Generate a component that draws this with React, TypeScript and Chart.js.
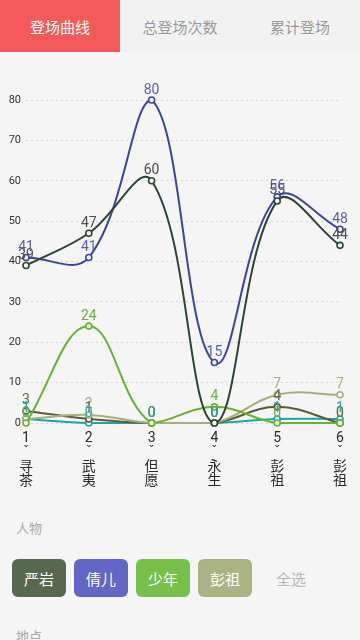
import React, { useEffect, useRef } from "react";
import { Chart, registerables } from "chart.js";

Chart.register(...registerables);

const categories = ["1", "2", "3", "4", "5", "6"];
const categoryNames = ["寻茶", "武夷", "但愿", "永生", "彭祖", "彭祖"];
const yTickValues = [0, 10, 20, 30, 40, 50, 60, 70, 80];
const tabs = ["登场曲线", "总登场次数", "累计登场"];
const personButtons = ["严岩", "倩儿", "少年", "彭祖"];

const seriesNames = ["严岩", "倩儿", "少年", "彭祖", "路人", "其他"];
const yanYan = [39, 47, 60, 0, 55, 44];
const qianEr = [41, 41, 80, 15, 56, 48];
const shaoNian = [0, 24, 0, 4, 0, 0];
const pengZu = [1, 2, 0, 0, 7, 7];
const luRen = [3, 1, 0, 0, 4, 0];
const qiTa = [1, 0, 0, 0, 1, 1];

const seriesValues = [yanYan, qianEr, shaoNian, pengZu, luRen, qiTa];
const lineColors = ["#2c4532", "#3b43a8", "#68b42f", "#a4b07b", "#5e5a34", "#1ca4ae"];
const labelColors = ["#4a4f48", "#5a5fb3", "#6ab536", "#a7ae7c", "#6a6444", "#2aa7b0"];
const buttonColors = ["#56684f", "#6366c4", "#79c04b", "#a9b383"];

const FONT = "Roboto, 'Noto Sans CJK SC', sans-serif";

const valueLabelPlugin = {
  id: "valueLabels",
  afterDatasetsDraw(chart: any) {
    const ctx = chart.ctx;
    ctx.save();
    ctx.font = `14px ${FONT}`;
    ctx.textAlign = "center";
    ctx.textBaseline = "bottom";
    chart.data.datasets.forEach((ds: any, di: number) => {
      const meta = chart.getDatasetMeta(di);
      meta.data.forEach((pt: any, i: number) => {
        ctx.fillStyle = labelColors[di];
        ctx.fillText(String(ds.data[i]), pt.x, pt.y - 3);
      });
    });
    ctx.restore();
  },
};

function LineChart() {
  const ref = useRef<HTMLCanvasElement>(null);
  useEffect(() => {
    if (!ref.current) return;
    const chart = new Chart(ref.current, {
      type: "line",
      data: {
        labels: categories.map((c, i) => [c, "ˇ", categoryNames[i][0], categoryNames[i][1]]),
        datasets: seriesValues.map((vals, i) => ({
          label: seriesNames[i],
          data: vals,
          borderColor: lineColors[i],
          backgroundColor: "#f5f5f5",
          borderWidth: 2,
          pointRadius: 3,
          pointBorderWidth: 1.6,
          pointBackgroundColor: "#f5f5f5",
          pointBorderColor: lineColors[i],
          tension: 0.4,
          fill: false,
          clip: false as any,
        })),
      },
      options: {
        responsive: true,
        maintainAspectRatio: false,
        animation: false,
        layout: { padding: { top: 45, right: 20, left: 0, bottom: 0 } },
        plugins: { legend: { display: false }, tooltip: { enabled: false } },
        scales: {
          x: {
            offset: false,
            grid: { display: false, drawTicks: false },
            border: { display: false },
            ticks: {
              color: "#2a2a2a",
              padding: 8,
              autoSkip: false,
              maxRotation: 0,
              font: { family: FONT, size: 14, lineHeight: 1.04 },
            },
            afterFit: (s: any) => {
              s.height = 77;
            },
          },
          y: {
            min: 0,
            max: 80,
            grid: { color: "#d6d6d6", drawTicks: false, lineWidth: 1 },
            border: { display: false, dash: [2, 3] },
            afterBuildTicks: (s: any) => {
              s.ticks = yTickValues.map((v) => ({ value: v }));
            },
            ticks: {
              color: "#333333",
              padding: 5,
              font: { family: FONT, size: 11 },
            },
            afterFit: (s: any) => {
              s.width = 26;
            },
          },
        },
      },
      plugins: [valueLabelPlugin],
    });
    return () => chart.destroy();
  }, []);
  return (
    <div style={{ position: "absolute", left: 0, top: 55, width: 360, height: 445 }}>
      <canvas ref={ref} style={{ display: "block" }} />
    </div>
  );
}

export default function App() {
  useEffect(() => {
    document.body.style.margin = "0";
    document.body.style.background = "#f5f5f5";
  }, []);
  return (
    <div
      style={{
        position: "relative",
        width: 360,
        height: 640,
        overflow: "hidden",
        background: "#f5f5f5",
        fontFamily: FONT,
      }}
    >
      <div
        style={{
          position: "absolute",
          left: 0,
          top: 0,
          width: 360,
          height: 52,
          background: "#f2f2f2",
          display: "flex",
        }}
      >
        {tabs.map((t, i) => (
          <div
            key={t}
            style={{
              width: 120,
              height: 52,
              display: "flex",
              alignItems: "center",
              justifyContent: "center",
              fontSize: 15,
              color: i === 0 ? "#ffffff" : "#9a9a9a",
              background: i === 0 ? "#f45a5a" : "transparent",
            }}
          >
            {t}
          </div>
        ))}
      </div>
      <LineChart />
      <div style={{ position: "absolute", left: 16, top: 518, fontSize: 13, color: "#a8a8a8" }}>人物</div>
      {personButtons.map((b, i) => (
        <div
          key={b}
          style={{
            position: "absolute",
            left: 12 + i * 62,
            top: 559,
            width: 54,
            height: 38,
            borderRadius: 6,
            background: buttonColors[i],
            color: "#ffffff",
            fontSize: 15,
            display: "flex",
            alignItems: "center",
            justifyContent: "center",
          }}
        >
          {b}
        </div>
      ))}
      <div style={{ position: "absolute", left: 276, top: 568, fontSize: 15, color: "#b8b8b8" }}>全选</div>
      <div style={{ position: "absolute", left: 16, top: 626, fontSize: 13, color: "#a8a8a8" }}>地点</div>
    </div>
  );
}
